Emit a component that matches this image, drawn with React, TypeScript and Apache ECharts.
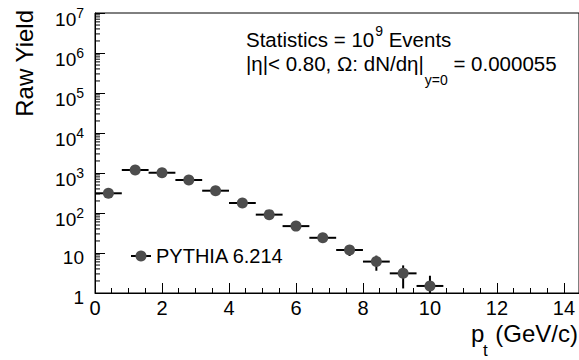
import React, { useEffect, useRef } from "react";
import * as echarts from "echarts";

// ---- data ----
const ptCenter = [0.4, 1.2, 2.0, 2.8, 3.6, 4.4, 5.2, 6.0, 6.8, 7.6, 8.4, 9.2, 10.0];
const ptLow = [0.0, 0.8, 1.6, 2.4, 3.2, 4.0, 4.8, 5.6, 6.4, 7.2, 8.0, 8.8, 9.6];
const ptHigh = [0.8, 1.6, 2.4, 3.2, 4.0, 4.8, 5.6, 6.4, 7.2, 8.0, 8.8, 9.6, 10.4];
const rawYield = [311, 1190, 1015, 668, 361, 178, 91, 47, 24, 11.9, 6.1, 3.1, 1.5];
const yieldLow = [293, 1156, 983, 642, 342, 165, 81.5, 40.1, 19.1, 8.4, 3.6, 1.3, 0.3];
const yieldHigh = [329, 1224, 1047, 694, 380, 191, 100.5, 53.9, 28.9, 15.4, 8.6, 4.9, 2.7];

const seriesName = "PYTHIA 6.214";
const xTickValues = [0, 2, 4, 6, 8, 10, 12, 14];
const yDecadeExponents = [0, 1, 2, 3, 4, 5, 6, 7];
const yMinorMultipliers = [2, 3, 4, 5, 6, 7, 8, 9];

const statsLine1 = ["Statistics = 10", "9", "Events"];
const statsLine2 = ["|\u03b7|< 0.80, \u03a9: dN/d\u03b7|", "y=0", "= 0.000055"];

const FONT = "'Liberation Sans', Arial, Helvetica, sans-serif";
const MARKER = "#4d4d4d";

function measure(text: string, size: number): number {
  const c = document.createElement("canvas");
  const ctx = c.getContext("2d");
  if (!ctx) return text.length * size * 0.55;
  ctx.font = `${size}px ${FONT}`;
  return ctx.measureText(text).width;
}

export default function App() {
  const ref = useRef<HTMLDivElement>(null);

  useEffect(() => {
    if (!ref.current) return;
    const chart = echarts.init(ref.current, undefined, { renderer: "svg" });

    const errData = ptCenter.map((x, i) => [x, rawYield[i], ptLow[i], ptHigh[i], yieldLow[i], yieldHigh[i]]);
    const minorData: number[][] = [];
    yDecadeExponents.slice(0, -1).forEach((e) => {
      yMinorMultipliers.forEach((m) => minorData.push([0, m * Math.pow(10, e)]));
    });

    const yMin = Math.pow(10, yDecadeExponents[0]);

    // statistics text layout (chained by measured widths)
    const MAIN = 20.5;
    const SMALL = 14;
    const x0 = 246;
    const sp = measure(" ", MAIN);
    const l1a = measure(statsLine1[0], MAIN);
    const supX = x0 + l1a + 1;
    const supW = measure(statsLine1[1], SMALL);
    const eventsX = supX + supW + sp;
    const l2a = measure(statsLine2[0], MAIN);
    const subX = x0 + l2a + 1;
    const subW = measure(statsLine2[1], SMALL);
    const valX = subX + subW + sp;

    const txt = (x: number, y: number, text: string, size: number, align = "left", extra: any = {}) => ({
      type: "text",
      x,
      y,
      ...extra,
      style: { text, fontSize: size, fontFamily: FONT, fill: "#000", align, verticalAlign: "middle" },
    });

    const option: any = {
      animation: false,
      backgroundColor: "#fff",
      grid: {
        left: 95,
        top: 13,
        width: 486,
        height: 280,
        show: true,
        borderColor: "#000",
        borderWidth: 1,
        backgroundColor: "transparent",
      },
      xAxis: {
        type: "value",
        min: 0,
        max: 14.45,
        interval: 2,
        axisLine: { show: true, lineStyle: { color: "#000", width: 1 } },
        axisTick: { show: true, inside: true, length: 10, lineStyle: { color: "#000" } },
        minorTick: { show: true, splitNumber: 4, length: 5, lineStyle: { color: "#000" } },
        splitLine: { show: false },
        axisLabel: {
          show: true,
          showMaxLabel: false,
          margin: 5,
          fontSize: 20,
          fontFamily: FONT,
          color: "#000",
          formatter: (v: number) => (xTickValues.includes(Math.round(v * 10) / 10) ? String(v) : ""),
        },
      },
      yAxis: {
        type: "log",
        logBase: 10,
        min: yMin,
        max: Math.pow(10, yDecadeExponents[yDecadeExponents.length - 1]),
        splitNumber: 7,
        axisLine: { show: true, lineStyle: { color: "#000", width: 1 } },
        axisTick: { show: true, inside: true, length: 10, lineStyle: { color: "#000" } },
        minorTick: { show: false },
        splitLine: { show: false },
        axisLabel: {
          margin: 11,
          fontFamily: FONT,
          color: "#000",
          padding: [8, 0, 0, 0],
          formatter: (v: number) => {
            const e = Math.round(Math.log10(v));
            if (e === 0) return "{p|1}";
            if (e === 1) return "{p|10}";
            return "{m|10}{s|" + e + "}";
          },
          rich: {
            m: { fontSize: 19, fontFamily: FONT, color: "#000", lineHeight: 23, verticalAlign: "bottom" },
            s: { fontSize: 14, fontFamily: FONT, color: "#000", verticalAlign: "top" },
            p: { fontSize: 19, fontFamily: FONT, color: "#000" },
          },
        },
      },
      series: [
        {
          type: "custom",
          name: "minorTicks",
          silent: true,
          z: 1,
          data: minorData,
          encode: { x: 0, y: 1 },
          renderItem: (params: any, api: any) => {
            const p = api.coord([api.value(0), api.value(1)]);
            return {
              type: "line",
              shape: { x1: p[0], y1: p[1], x2: p[0] + 5, y2: p[1] },
              style: { stroke: "#000", lineWidth: 1 },
            };
          },
        },
        {
          type: "custom",
          name: "errors",
          silent: true,
          z: 2,
          data: errData,
          encode: { x: 0, y: 1 },
          renderItem: (params: any, api: any) => {
            const x = api.value(0);
            const y = api.value(1);
            const l = api.coord([api.value(2), y]);
            const h = api.coord([api.value(3), y]);
            const b = api.coord([x, Math.max(api.value(4), yMin)]);
            const t = api.coord([x, api.value(5)]);
            return {
              type: "group",
              children: [
                { type: "line", shape: { x1: l[0], y1: l[1], x2: h[0], y2: h[1] }, style: { stroke: "#000", lineWidth: 2 } },
                { type: "line", shape: { x1: b[0], y1: b[1], x2: t[0], y2: t[1] }, style: { stroke: "#000", lineWidth: 2 } },
              ],
            };
          },
        },
        {
          type: "scatter",
          name: seriesName,
          z: 3,
          symbol: "circle",
          symbolSize: 11,
          itemStyle: { color: MARKER, opacity: 1 },
          data: ptCenter.map((x, i) => [x, rawYield[i]]),
        },
      ],
      graphic: [
        // y axis title
        txt(24, 10, "Raw Yield", 24, "right", { rotation: Math.PI / 2 }),
        // x axis title
        txt(578, 333, "(GeV/c)", 24, "right"),
        txt(471, 333, "p", 24),
        txt(483, 350, "t", 17),
        // statistics line 1
        txt(x0, 39, statsLine1[0], MAIN),
        txt(supX, 31, statsLine1[1], SMALL),
        txt(eventsX, 39, statsLine1[2], MAIN),
        // statistics line 2
        txt(x0, 63, statsLine2[0], MAIN),
        txt(subX, 80, statsLine2[1], SMALL),
        txt(valX, 63, statsLine2[2], MAIN),
        // legend
        {
          type: "line",
          shape: { x1: 131, y1: 256, x2: 151, y2: 256 },
          style: { stroke: "#000", lineWidth: 2 },
        },
        {
          type: "circle",
          shape: { cx: 141, cy: 256, r: 5.5 },
          style: { fill: MARKER },
        },
        txt(156, 256, seriesName, 20),
      ],
    };

    chart.setOption(option);
    return () => chart.dispose();
  }, []);

  return (
    <div
      ref={ref}
      style={{ position: "absolute", left: 0, top: 0, width: 579, height: 360, background: "#fff" }}
    />
  );
}
